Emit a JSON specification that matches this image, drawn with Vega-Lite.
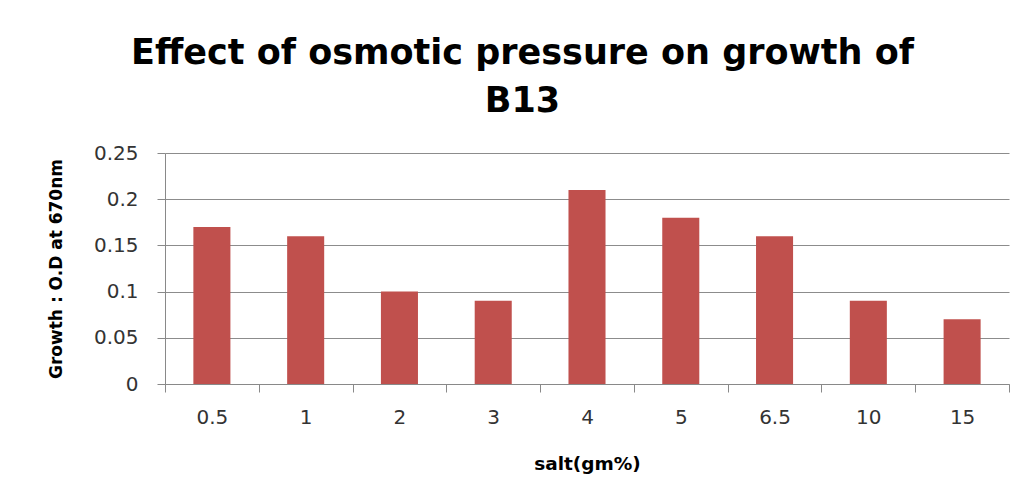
{
  "$schema": "https://vega.github.io/schema/vega-lite/v6.json",
  "width": 844,
  "height": 231,
  "autosize": {"type": "none"},
  "padding": {"left": 165, "top": 153, "right": 19, "bottom": 114},
  "background": "white",
  "title": {
    "text": ["Effect of osmotic pressure on growth of", "B13"],
    "font": "DejaVu Sans",
    "fontWeight": "bold",
    "fontSize": 35,
    "lineHeight": 48,
    "color": "#000000",
    "anchor": "middle",
    "frame": "bounds",
    "dx": -6,
    "offset": 24
  },
  "data": {
    "values": [
      {"salt": "0.5", "growth": 0.17},
      {"salt": "1", "growth": 0.16},
      {"salt": "2", "growth": 0.10},
      {"salt": "3", "growth": 0.09},
      {"salt": "4", "growth": 0.21},
      {"salt": "5", "growth": 0.18},
      {"salt": "6.5", "growth": 0.16},
      {"salt": "10", "growth": 0.09},
      {"salt": "15", "growth": 0.07}
    ]
  },
  "mark": {"type": "bar", "color": "#C0504D", "width": {"band": 0.395}},
  "encoding": {
    "x": {
      "field": "salt",
      "type": "ordinal",
      "sort": null,
      "scale": {"paddingInner": 0, "paddingOuter": 0},
      "axis": {
        "title": "salt(gm%)",
        "labelAngle": 0,
        "grid": false,
        "tickBand": "extent",
        "tickSize": 8,
        "tickColor": "#898989",
        "domainColor": "#898989",
        "labelFont": "DejaVu Sans",
        "labelFontSize": 20,
        "labelColor": "#333333",
        "labelPadding": 15,
        "titleFont": "DejaVu Sans",
        "titleFontSize": 18.5,
        "titleFontWeight": "bold",
        "titleColor": "#000000",
        "titlePadding": 27
      }
    },
    "y": {
      "field": "growth",
      "type": "quantitative",
      "scale": {"domain": [0, 0.25], "nice": false},
      "axis": {
        "title": "Growth : O.D at 670nm",
        "values": [0, 0.05, 0.1, 0.15, 0.2, 0.25],
        "format": "~g",
        "grid": true,
        "tickSize": 8,
        "tickColor": "#898989",
        "domainColor": "#898989",
        "gridColor": "#8c8c8c",
        "gridOpacity": 1,
        "gridWidth": 1,
        "labelFont": "DejaVu Sans",
        "labelFontSize": 20,
        "labelColor": "#333333",
        "labelPadding": 19,
        "titleFont": "DejaVu Sans",
        "titleFontSize": 17,
        "titleFontWeight": "bold",
        "titleColor": "#000000",
        "titlePadding": 28
      }
    }
  },
  "config": {
    "view": {"stroke": null}
  }
}
